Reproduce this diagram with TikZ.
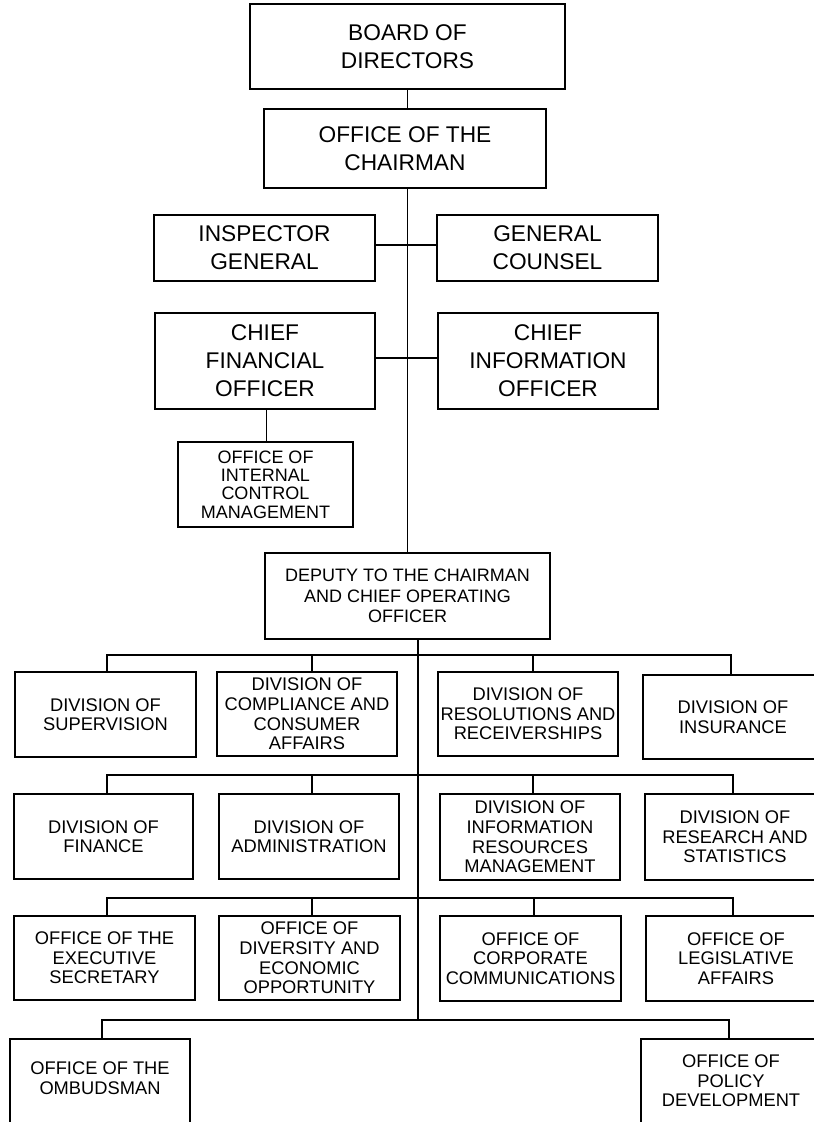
\documentclass[tikz,border=0pt]{standalone}
\usepackage{fontspec}
\setmainfont{Liberation Sans}
\begin{document}
\begin{tikzpicture}[x=1pt,y=-1pt,
  box/.style={draw, line width=1.7pt, inner sep=0pt, align=center},
  big/.style={font=\fontsize{22.7}{28}\selectfont},
  mid/.style={font=\fontsize{18.3}{19.6}\selectfont},
  tight/.style={font=\fontsize{18}{18.4}\selectfont},
  wire/.style={line width=1.6pt}]
\useasboundingbox (0,0) rectangle (814,1122);
\clip (0,0) rectangle (814,1122);

% top of the chart
\node[box,big,minimum width=315pt,minimum height=85pt] (board) at (407.5,46.5) {BOARD OF\\DIRECTORS};
\node[box,big,minimum width=282pt,minimum height=79pt] (chair) at (405,148.5) {OFFICE OF THE\\CHAIRMAN};
\node[box,big,minimum width=221pt,minimum height=66pt] (ig) at (264.5,248) {INSPECTOR\\GENERAL};
\node[box,big,minimum width=221pt,minimum height=66pt] (gc) at (547.5,248) {GENERAL\\COUNSEL};
\node[box,big,minimum width=220pt,minimum height=96pt] (cfo) at (265,361) {CHIEF\\FINANCIAL\\OFFICER};
\node[box,big,minimum width=220pt,minimum height=96pt] (cio) at (548,361) {CHIEF\\INFORMATION\\OFFICER};
\node[box,tight,minimum width=175pt,minimum height=85pt] (oicm) at (265.5,484.5) {OFFICE OF\\INTERNAL\\CONTROL\\MANAGEMENT};
\node[box,mid,font=\fontsize{18}{20.7}\selectfont,minimum width=285pt,minimum height=86pt] (dep) at (407.5,596) {DEPUTY TO THE CHAIRMAN\\AND CHIEF OPERATING\\OFFICER};

% divisions
\node[box,mid,minimum width=181pt,minimum height=85pt] (sup) at (105.5,714.5) {DIVISION OF\\SUPERVISION};
\node[box,mid,minimum width=180pt,minimum height=84pt] (comp) at (307,714) {DIVISION OF\\COMPLIANCE AND\\CONSUMER\\AFFAIRS};
\node[box,mid,minimum width=180pt,minimum height=84pt] (res) at (528,714) {DIVISION OF\\RESOLUTIONS AND\\RECEIVERSHIPS};
\node[box,mid,minimum width=180pt,minimum height=84pt] (ins) at (733,717) {DIVISION OF\\INSURANCE};

\node[box,mid,minimum width=179pt,minimum height=85pt] (fin) at (103.5,836.5) {DIVISION OF\\FINANCE};
\node[box,mid,minimum width=180pt,minimum height=85pt] (adm) at (309,836.5) {DIVISION OF\\ADMINISTRATION};
\node[box,mid,minimum width=180pt,minimum height=86pt] (irm) at (530,837) {DIVISION OF\\INFORMATION\\RESOURCES\\MANAGEMENT};
\node[box,mid,minimum width=180pt,minimum height=86pt] (rsch) at (735,837) {DIVISION OF\\RESEARCH AND\\STATISTICS};

% offices
\node[box,mid,minimum width=181pt,minimum height=84pt] (exec) at (104.5,958) {OFFICE OF THE\\EXECUTIVE\\SECRETARY};
\node[box,mid,minimum width=181pt,minimum height=84pt] (div) at (309.5,958) {OFFICE OF\\DIVERSITY AND\\ECONOMIC\\OPPORTUNITY};
\node[box,mid,minimum width=181pt,minimum height=85pt] (corp) at (530.5,958.5) {OFFICE OF\\CORPORATE\\COMMUNICATIONS};
\node[box,mid,minimum width=180pt,minimum height=85pt] (leg) at (736,958.5) {OFFICE OF\\LEGISLATIVE\\AFFAIRS};

\node[box,minimum width=180pt,minimum height=120pt,
  label={[mid,align=center,yshift=21pt]center:OFFICE OF THE\\OMBUDSMAN}] (omb) at (100,1099) {};
\node[box,minimum width=180pt,minimum height=120pt,
  label={[mid,align=center,yshift=18pt]center:OFFICE OF\\POLICY\\DEVELOPMENT}] (pol) at (731,1099) {};

% reporting lines
\draw[wire] (board.south) -- (board.south |- chair.north);
\draw[wire] (dep.north |- chair.south) -- (dep.north);
\draw[wire] ([yshift=3pt]ig.east) -- ([yshift=3pt]gc.west);
\draw[wire] ([yshift=3pt]cfo.east) -- ([yshift=3pt]cio.west);
\draw[wire] ([xshift=1.5pt]cfo.south) -- ([xshift=1.5pt]cfo.south |- oicm.north);

\coordinate (b1) at (418,655);
\coordinate (b2) at (418,775);
\coordinate (b3) at (418,898);
\coordinate (b4) at (418,1020);
\draw[wire] ([xshift=10.5pt]dep.south) -- (b4);

\draw[wire] (b1) -| ([xshift=1.5pt]sup.north);
\draw[wire] (b1) -| ([xshift=5pt]comp.north);
\draw[wire] (b1) -| ([xshift=5pt]res.north);
\draw[wire] (b1) -| ([xshift=-2pt]ins.north);

\draw[wire] (b2) -| ([xshift=3.5pt]fin.north);
\draw[wire] (b2) -| ([xshift=3pt]adm.north);
\draw[wire] (b2) -| ([xshift=3pt]irm.north);
\draw[wire] (b2) -| ([xshift=-2pt]rsch.north);

\draw[wire] (b3) -| ([xshift=2.5pt]exec.north);
\draw[wire] (b3) -| ([xshift=2.5pt]div.north);
\draw[wire] (b3) -| ([xshift=3.5pt]corp.north);
\draw[wire] (b3) -| ([xshift=-3pt]leg.north);

\draw[wire] (b4) -| ([xshift=2pt]omb.north);
\draw[wire] (b4) -| ([xshift=-2pt]pol.north);
\end{tikzpicture}
\end{document}
